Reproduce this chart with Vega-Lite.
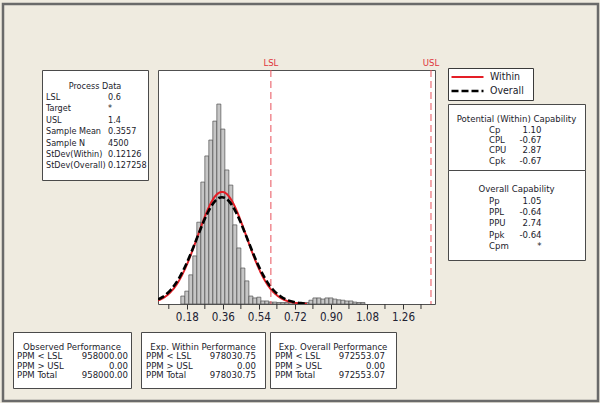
{
  "$schema": "https://vega.github.io/schema/vega-lite/v6.json",
  "background": "#EFEBE0",
  "padding": {"left": 0, "top": 0, "right": 1, "bottom": 1},
  "bounds": "flush",
  "spacing": 0,
  "config": {
    "font": "DejaVu Sans Condensed, Liberation Sans",
    "view": {"stroke": null},
    "text": {"font": "DejaVu Sans Condensed, Liberation Sans", "fontSize": 9.5, "color": "#1b1b2b", "baseline": "middle"}
  },
  "vconcat": [
    {"width": 1, "height": 3.5, "data": {"values": []}, "mark": "text"},
    {
      "bounds": "flush",
      "spacing": 0,
      "hconcat": [
        {"width": 2.5, "height": 1, "data": {"values": []}, "mark": "text"},
        {
          "width": 595, "height": 397,
          "view": {"stroke": "#6a6a6a", "strokeWidth": 2.5},
          "data": {"values": [{"k": 0}]},
          "mark": {"type": "text", "text": ""},
          "encoding": {
            "x": {"field": "k", "type": "ordinal", "axis": null},
            "y": {"field": "k", "type": "ordinal", "axis": null}
          }
        }
      ]
    },
    {
      "bounds": "flush",
      "spacing": 0,
      "hconcat": [
        {"width": 13, "height": 1, "data": {"values": []}, "mark": "text"},
        {
          "bounds": "flush",
          "spacing": 0,
          "vconcat": [
            {"width": 1, "height": 65.5, "data": {"values": []}, "mark": "text"},
            {
              "bounds": "flush",
              "spacing": 0,
              "hconcat": [
                {"width": 29, "height": 1, "data": {"values": []}, "mark": "text"},
                {
                  "width": 106, "height": 110,
                  "view": {"fill": "white", "stroke": "#4a4a4a", "strokeWidth": 1},
                  "data": {"values": [
                    {"row": 0, "label": "Process Data", "value": ""},
                    {"row": 1, "label": "LSL", "value": "0.6"},
                    {"row": 2, "label": "Target", "value": "*"},
                    {"row": 3, "label": "USL", "value": "1.4"},
                    {"row": 4, "label": "Sample Mean", "value": "0.3557"},
                    {"row": 5, "label": "Sample N", "value": "4500"},
                    {"row": 6, "label": "StDev(Within)", "value": "0.12126"},
                    {"row": 7, "label": "StDev(Overall)", "value": "0.127258"}
                  ]},
                  "encoding": {"y": {"field": "row", "type": "ordinal", "scale": {"type": "point", "range": [10, 101]}, "axis": null}},
                  "layer": [
                    {"transform": [{"filter": "datum.row == 0"}], "mark": {"type": "text", "align": "center", "fontSize": 9}, "encoding": {"x": {"value": 53}, "text": {"field": "label"}}},
                    {"transform": [{"filter": "datum.row > 0"}], "mark": {"type": "text", "align": "left", "fontSize": 9}, "encoding": {"x": {"value": 4}, "text": {"field": "label"}}},
                    {"transform": [{"filter": "datum.row > 0"}], "mark": {"type": "text", "align": "left", "fontSize": 9}, "encoding": {"x": {"value": 66}, "text": {"field": "value"}}}
                  ]
                },
                {"width": 10, "height": 1, "data": {"values": []}, "mark": "text"},
                {
                  "width": 277, "height": 234,
                  "view": {"fill": "white", "stroke": "#505050", "strokeWidth": 1},
                  "layer": [
                    {
                      "data": {"values": [
                        {"lo": 0.15, "hi": 0.17, "count": 21},
                        {"lo": 0.17, "hi": 0.19, "count": 34},
                        {"lo": 0.19, "hi": 0.21, "count": 77},
                        {"lo": 0.21, "hi": 0.23, "count": 127},
                        {"lo": 0.23, "hi": 0.25, "count": 216},
                        {"lo": 0.25, "hi": 0.27, "count": 322},
                        {"lo": 0.27, "hi": 0.29, "count": 391},
                        {"lo": 0.29, "hi": 0.31, "count": 433},
                        {"lo": 0.31, "hi": 0.33, "count": 483},
                        {"lo": 0.33, "hi": 0.35, "count": 528},
                        {"lo": 0.35, "hi": 0.37, "count": 462},
                        {"lo": 0.37, "hi": 0.39, "count": 354},
                        {"lo": 0.39, "hi": 0.41, "count": 314},
                        {"lo": 0.41, "hi": 0.43, "count": 209},
                        {"lo": 0.43, "hi": 0.45, "count": 148},
                        {"lo": 0.45, "hi": 0.47, "count": 95},
                        {"lo": 0.47, "hi": 0.49, "count": 61},
                        {"lo": 0.49, "hi": 0.51, "count": 21},
                        {"lo": 0.51, "hi": 0.53, "count": 16},
                        {"lo": 0.53, "hi": 0.55, "count": 18},
                        {"lo": 0.55, "hi": 0.57, "count": 8},
                        {"lo": 0.57, "hi": 0.59, "count": 8},
                        {"lo": 0.59, "hi": 0.61, "count": 5},
                        {"lo": 0.61, "hi": 0.63, "count": 5},
                        {"lo": 0.63, "hi": 0.65, "count": 4},
                        {"lo": 0.65, "hi": 0.67, "count": 4},
                        {"lo": 0.67, "hi": 0.69, "count": 4},
                        {"lo": 0.69, "hi": 0.71, "count": 4},
                        {"lo": 0.71, "hi": 0.73, "count": 4},
                        {"lo": 0.73, "hi": 0.75, "count": 4},
                        {"lo": 0.75, "hi": 0.77, "count": 4},
                        {"lo": 0.77, "hi": 0.79, "count": 4},
                        {"lo": 0.79, "hi": 0.81, "count": 10},
                        {"lo": 0.81, "hi": 0.83, "count": 16},
                        {"lo": 0.83, "hi": 0.85, "count": 16},
                        {"lo": 0.85, "hi": 0.87, "count": 13},
                        {"lo": 0.87, "hi": 0.89, "count": 16},
                        {"lo": 0.89, "hi": 0.91, "count": 16},
                        {"lo": 0.91, "hi": 0.93, "count": 13},
                        {"lo": 0.93, "hi": 0.95, "count": 11},
                        {"lo": 0.95, "hi": 0.97, "count": 10},
                        {"lo": 0.97, "hi": 0.99, "count": 8},
                        {"lo": 0.99, "hi": 1.01, "count": 8},
                        {"lo": 1.01, "hi": 1.03, "count": 5},
                        {"lo": 1.03, "hi": 1.05, "count": 4},
                        {"lo": 1.05, "hi": 1.07, "count": 4}
                      ]},
                      "mark": {"type": "rect", "fill": "#c6c6c6", "stroke": "#505050", "strokeWidth": 0.7},
                      "encoding": {
                        "x": {"field": "lo", "type": "quantitative",
                          "scale": {"domain": [0.036, 1.42], "nice": false, "zero": false},
                          "axis": {
                            "values": [0.18, 0.36, 0.54, 0.72, 0.9, 1.08, 1.26],
                            "format": ".2f",
                            "tickSize": 5, "tickColor": "#333333", "tickWidth": 1,
                            "domain": false, "grid": false, "title": null,
                            "labelFontSize": 11.5, "labelColor": "#222233", "labelPadding": 2,
                            "labelFont": "DejaVu Sans Condensed, Liberation Sans", "labelFlush": false, "labelOverlap": false
                          }},
                        "x2": {"field": "hi"},
                        "y": {"field": "count", "type": "quantitative", "scale": {"domain": [0, 618], "nice": false}, "axis": null},
                        "y2": {"datum": 0}
                      }
                    },
                    {
                      "data": {"values": [{"tick": 0.09}, {"tick": 0.27}, {"tick": 0.45}, {"tick": 0.63}, {"tick": 0.81}, {"tick": 0.99}, {"tick": 1.17}, {"tick": 1.35}]},
                      "mark": {"type": "rule", "color": "#333333", "strokeWidth": 1},
                      "encoding": {"x": {"field": "tick", "type": "quantitative"}, "y": {"datum": 0}, "y2": {"datum": -13.2}}
                    },
                    {
                      "data": {"values": [
                        {"fit": "Within", "x": 0.036, "density": 9.16},
                        {"fit": "Within", "x": 0.06, "density": 15.14},
                        {"fit": "Within", "x": 0.08, "density": 22.33},
                        {"fit": "Within", "x": 0.10, "density": 32.06},
                        {"fit": "Within", "x": 0.12, "density": 44.77},
                        {"fit": "Within", "x": 0.14, "density": 60.86},
                        {"fit": "Within", "x": 0.16, "density": 80.51},
                        {"fit": "Within", "x": 0.18, "density": 103.65},
                        {"fit": "Within", "x": 0.20, "density": 129.86},
                        {"fit": "Within", "x": 0.22, "density": 158.31},
                        {"fit": "Within", "x": 0.24, "density": 187.83},
                        {"fit": "Within", "x": 0.26, "density": 216.87},
                        {"fit": "Within", "x": 0.28, "density": 243.68},
                        {"fit": "Within", "x": 0.30, "density": 266.45},
                        {"fit": "Within", "x": 0.32, "density": 283.54},
                        {"fit": "Within", "x": 0.34, "density": 293.63},
                        {"fit": "Within", "x": 0.3557, "density": 296.1},
                        {"fit": "Within", "x": 0.37, "density": 294.05},
                        {"fit": "Within", "x": 0.39, "density": 284.49},
                        {"fit": "Within", "x": 0.41, "density": 267.85},
                        {"fit": "Within", "x": 0.43, "density": 245.42},
                        {"fit": "Within", "x": 0.45, "density": 218.83},
                        {"fit": "Within", "x": 0.47, "density": 189.89},
                        {"fit": "Within", "x": 0.49, "density": 160.35},
                        {"fit": "Within", "x": 0.51, "density": 131.78},
                        {"fit": "Within", "x": 0.53, "density": 105.38},
                        {"fit": "Within", "x": 0.55, "density": 82.02},
                        {"fit": "Within", "x": 0.57, "density": 62.12},
                        {"fit": "Within", "x": 0.59, "density": 45.79},
                        {"fit": "Within", "x": 0.61, "density": 32.84},
                        {"fit": "Within", "x": 0.63, "density": 22.92},
                        {"fit": "Within", "x": 0.65, "density": 15.57},
                        {"fit": "Within", "x": 0.67, "density": 10.30},
                        {"fit": "Within", "x": 0.69, "density": 6.62},
                        {"fit": "Within", "x": 0.71, "density": 4.15},
                        {"fit": "Within", "x": 0.73, "density": 2.53},
                        {"fit": "Within", "x": 0.75, "density": 1.50},
                        {"fit": "Within", "x": 0.78, "density": 0.65},
                        {"fit": "Overall", "x": 0.036, "density": 12.02},
                        {"fit": "Overall", "x": 0.06, "density": 18.96},
                        {"fit": "Overall", "x": 0.08, "density": 26.99},
                        {"fit": "Overall", "x": 0.10, "density": 37.47},
                        {"fit": "Overall", "x": 0.12, "density": 50.76},
                        {"fit": "Overall", "x": 0.14, "density": 67.07},
                        {"fit": "Overall", "x": 0.16, "density": 86.47},
                        {"fit": "Overall", "x": 0.18, "density": 108.77},
                        {"fit": "Overall", "x": 0.20, "density": 133.47},
                        {"fit": "Overall", "x": 0.22, "density": 159.77},
                        {"fit": "Overall", "x": 0.24, "density": 186.60},
                        {"fit": "Overall", "x": 0.26, "density": 212.62},
                        {"fit": "Overall", "x": 0.28, "density": 236.36},
                        {"fit": "Overall", "x": 0.30, "density": 256.34},
                        {"fit": "Overall", "x": 0.32, "density": 271.22},
                        {"fit": "Overall", "x": 0.34, "density": 279.96},
                        {"fit": "Overall", "x": 0.3557, "density": 282.1},
                        {"fit": "Overall", "x": 0.37, "density": 280.33},
                        {"fit": "Overall", "x": 0.39, "density": 272.04},
                        {"fit": "Overall", "x": 0.41, "density": 257.55},
                        {"fit": "Overall", "x": 0.43, "density": 237.89},
                        {"fit": "Overall", "x": 0.45, "density": 214.37},
                        {"fit": "Overall", "x": 0.47, "density": 188.47},
                        {"fit": "Overall", "x": 0.49, "density": 161.65},
                        {"fit": "Overall", "x": 0.51, "density": 135.26},
                        {"fit": "Overall", "x": 0.53, "density": 110.41},
                        {"fit": "Overall", "x": 0.55, "density": 87.94},
                        {"fit": "Overall", "x": 0.57, "density": 68.33},
                        {"fit": "Overall", "x": 0.59, "density": 51.80},
                        {"fit": "Overall", "x": 0.61, "density": 38.31},
                        {"fit": "Overall", "x": 0.63, "density": 27.64},
                        {"fit": "Overall", "x": 0.65, "density": 19.46},
                        {"fit": "Overall", "x": 0.67, "density": 13.36},
                        {"fit": "Overall", "x": 0.69, "density": 8.95},
                        {"fit": "Overall", "x": 0.71, "density": 5.85},
                        {"fit": "Overall", "x": 0.73, "density": 3.73},
                        {"fit": "Overall", "x": 0.75, "density": 2.32},
                        {"fit": "Overall", "x": 0.78, "density": 1.09}
                      ]},
                      "mark": {"type": "line", "interpolate": "monotone", "clip": true},
                      "encoding": {
                        "x": {"field": "x", "type": "quantitative"},
                        "y": {"field": "density", "type": "quantitative"},
                        "color": {"field": "fit", "type": "nominal",
                          "scale": {"domain": ["Within", "Overall"], "range": ["#e41e26", "#000000"]},
                          "legend": {"orient": "none", "legendX": 448, "legendY": 68, "title": null,
                            "strokeColor": "#3a3a3a", "fillColor": "white", "padding": 2,
                            "symbolType": "stroke", "symbolSize": 1024, "symbolStrokeWidth": 2.5,
                            "clipHeight": 14, "rowPadding": 0, "labelOffset": 5,
                            "labelFontSize": 10.5, "labelFont": "DejaVu Sans Condensed, Liberation Sans", "labelColor": "#1b1b2b",
                            "labelExpr": "datum.label + '\u2800'"}},
                        "strokeDash": {"field": "fit", "type": "nominal",
                          "scale": {"domain": ["Within", "Overall"], "range": [[1, 0], [7, 3]]},
                          "legend": {"orient": "none", "legendX": 448, "legendY": 68, "title": null,
                            "strokeColor": "#3a3a3a", "fillColor": "white", "padding": 2,
                            "symbolType": "stroke", "symbolSize": 1024, "symbolStrokeWidth": 2.5,
                            "clipHeight": 14, "rowPadding": 0, "labelOffset": 5,
                            "labelFontSize": 10.5, "labelFont": "DejaVu Sans Condensed, Liberation Sans", "labelColor": "#1b1b2b",
                            "labelExpr": "datum.label + '\u2800'"}},
                        "strokeWidth": {"field": "fit", "type": "nominal",
                          "scale": {"domain": ["Within", "Overall"], "range": [2, 2.6]}, "legend": null}
                      }
                    },
                    {
                      "data": {"values": [{"limit": "LSL", "value": 0.6}, {"limit": "USL", "value": 1.4}]},
                      "mark": {"type": "rule", "color": "#e8505a", "strokeDash": [7, 4], "strokeWidth": 1},
                      "encoding": {"x": {"field": "value", "type": "quantitative"}}
                    },
                    {
                      "data": {"values": [{"limit": "LSL", "value": 0.6}, {"limit": "USL", "value": 1.4}]},
                      "mark": {"type": "text", "color": "#e0353d", "baseline": "bottom", "dy": -2, "fontSize": 9.5},
                      "encoding": {"x": {"field": "value", "type": "quantitative"}, "y": {"datum": 618}, "text": {"field": "limit"}}
                    }
                  ]
                },
                {"width": 13, "height": 1, "data": {"values": []}, "mark": "text"},
                {
                  "bounds": "flush",
                  "spacing": 0,
                  "vconcat": [
                    {"width": 137, "height": 34, "data": {"values": []}, "mark": "text"},
                    {
                      "width": 137, "height": 66,
                      "view": {"fill": "white", "stroke": "#4a4a4a", "strokeWidth": 1},
                      "data": {"values": [
                        {"row": 0, "label": "Potential (Within) Capability", "value": ""},
                        {"row": 1, "label": "Cp", "value": "1.10"},
                        {"row": 2, "label": "CPL", "value": "-0.67"},
                        {"row": 3, "label": "CPU", "value": "2.87"},
                        {"row": 4, "label": "Cpk", "value": "-0.67"}
                      ]},
                      "encoding": {"y": {"field": "row", "type": "ordinal", "scale": {"type": "point", "range": [10, 62]}, "axis": null}},
                      "layer": [
                        {"transform": [{"filter": "datum.row == 0"}], "mark": {"type": "text", "align": "center"}, "encoding": {"x": {"value": 68.5}, "text": {"field": "label"}}},
                        {"transform": [{"filter": "datum.row > 0"}], "mark": {"type": "text", "align": "left"}, "encoding": {"x": {"value": 41}, "text": {"field": "label"}}},
                        {"transform": [{"filter": "datum.row > 0"}], "mark": {"type": "text", "align": "right"}, "encoding": {"x": {"value": 93.5}, "text": {"field": "value"}}}
                      ]
                    },
                    {
                      "width": 137, "height": 90,
                      "view": {"fill": "white", "stroke": "#4a4a4a", "strokeWidth": 1},
                      "data": {"values": [
                        {"row": 0, "label": "Overall Capability", "value": ""},
                        {"row": 1, "label": "Pp", "value": "1.05"},
                        {"row": 2, "label": "PPL", "value": "-0.64"},
                        {"row": 3, "label": "PPU", "value": "2.74"},
                        {"row": 4, "label": "Ppk", "value": "-0.64"},
                        {"row": 5, "label": "Cpm", "value": "*"}
                      ]},
                      "encoding": {"y": {"field": "row", "type": "ordinal", "scale": {"type": "point", "range": [13.5, 81.5]}, "axis": null}},
                      "layer": [
                        {"transform": [{"filter": "datum.row == 0"}], "mark": {"type": "text", "align": "center"}, "encoding": {"x": {"value": 68.5}, "text": {"field": "label"}}},
                        {"transform": [{"filter": "datum.row > 0"}], "mark": {"type": "text", "align": "left"}, "encoding": {"x": {"value": 41}, "text": {"field": "label"}}},
                        {"transform": [{"filter": "datum.row > 0"}], "mark": {"type": "text", "align": "right"}, "encoding": {"x": {"value": 93.5}, "text": {"field": "value"}}}
                      ]
                    }
                  ]
                }
              ]
            },
            {"width": 1, "height": 262, "data": {"values": []}, "mark": "text"},
            {
              "bounds": "flush",
              "spacing": 0,
              "hconcat": [
                {
                  "width": 118, "height": 56,
                  "view": {"fill": "white", "stroke": "#4a4a4a", "strokeWidth": 1},
                  "data": {"values": [
                    {"row": 0, "label": "Observed Performance", "value": ""},
                    {"row": 1, "label": "PPM < LSL", "value": "958000.00"},
                    {"row": 2, "label": "PPM > USL", "value": "0.00"},
                    {"row": 3, "label": "PPM Total", "value": "958000.00"}
                  ]},
                  "encoding": {"y": {"field": "row", "type": "ordinal", "scale": {"type": "point", "range": [10, 48]}, "axis": null}},
                  "layer": [
                    {"transform": [{"filter": "datum.row == 0"}], "mark": {"type": "text", "align": "center"}, "encoding": {"x": {"value": 59}, "text": {"field": "label"}}},
                    {"transform": [{"filter": "datum.row > 0"}], "mark": {"type": "text", "align": "left"}, "encoding": {"x": {"value": 4}, "text": {"field": "label"}}},
                    {"transform": [{"filter": "datum.row > 0"}], "mark": {"type": "text", "align": "right"}, "encoding": {"x": {"value": 115}, "text": {"field": "value"}}}
                  ]
                },
                {"width": 10, "height": 1, "data": {"values": []}, "mark": "text"},
                {
                  "width": 124, "height": 56,
                  "view": {"fill": "white", "stroke": "#4a4a4a", "strokeWidth": 1},
                  "data": {"values": [
                    {"row": 0, "label": "Exp. Within Performance", "value": ""},
                    {"row": 1, "label": "PPM < LSL", "value": "978030.75"},
                    {"row": 2, "label": "PPM > USL", "value": "0.00"},
                    {"row": 3, "label": "PPM Total", "value": "978030.75"}
                  ]},
                  "encoding": {"y": {"field": "row", "type": "ordinal", "scale": {"type": "point", "range": [10, 48]}, "axis": null}},
                  "layer": [
                    {"transform": [{"filter": "datum.row == 0"}], "mark": {"type": "text", "align": "center"}, "encoding": {"x": {"value": 62}, "text": {"field": "label"}}},
                    {"transform": [{"filter": "datum.row > 0"}], "mark": {"type": "text", "align": "left"}, "encoding": {"x": {"value": 5}, "text": {"field": "label"}}},
                    {"transform": [{"filter": "datum.row > 0"}], "mark": {"type": "text", "align": "right"}, "encoding": {"x": {"value": 115}, "text": {"field": "value"}}}
                  ]
                },
                {"width": 5, "height": 1, "data": {"values": []}, "mark": "text"},
                {
                  "width": 126, "height": 56,
                  "view": {"fill": "white", "stroke": "#4a4a4a", "strokeWidth": 1},
                  "data": {"values": [
                    {"row": 0, "label": "Exp. Overall Performance", "value": ""},
                    {"row": 1, "label": "PPM < LSL", "value": "972553.07"},
                    {"row": 2, "label": "PPM > USL", "value": "0.00"},
                    {"row": 3, "label": "PPM Total", "value": "972553.07"}
                  ]},
                  "encoding": {"y": {"field": "row", "type": "ordinal", "scale": {"type": "point", "range": [10, 48]}, "axis": null}},
                  "layer": [
                    {"transform": [{"filter": "datum.row == 0"}], "mark": {"type": "text", "align": "center"}, "encoding": {"x": {"value": 63}, "text": {"field": "label"}}},
                    {"transform": [{"filter": "datum.row > 0"}], "mark": {"type": "text", "align": "left"}, "encoding": {"x": {"value": 5}, "text": {"field": "label"}}},
                    {"transform": [{"filter": "datum.row > 0"}], "mark": {"type": "text", "align": "right"}, "encoding": {"x": {"value": 115}, "text": {"field": "value"}}}
                  ]
                }
              ]
            }
          ]
        }
      ]
    }
  ]
}
